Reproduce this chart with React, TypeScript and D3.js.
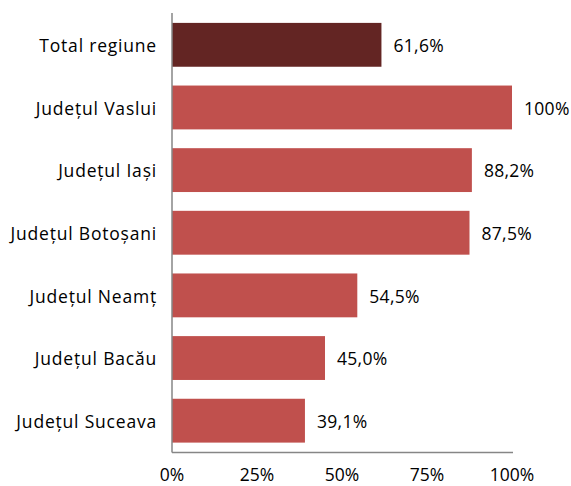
import { useEffect, useRef } from 'react';
import * as d3 from 'd3';

const categories = [
  'Total regiune',
  'Județul Vaslui',
  'Județul Iași',
  'Județul Botoșani',
  'Județul Neamț',
  'Județul Bacău',
  'Județul Suceava',
];
const values = [61.6, 100, 88.2, 87.5, 54.5, 45.0, 39.1];
const valueLabels = ['61,6%', '100%', '88,2%', '87,5%', '54,5%', '45,0%', '39,1%'];
const ticks = [0, 25, 50, 75, 100];

const App = () => {
  const svgRef = useRef<SVGSVGElement>(null);

  useEffect(() => {
    if (!svgRef.current) return;
    const svg = d3.select(svgRef.current);
    svg.selectAll('*').remove();

    const font = '"Open Sans", sans-serif';

    const x = d3.scaleLinear().domain([0, 100]).range([172, 512]);
    const y = d3
      .scaleBand<string>()
      .domain(categories)
      .range([13.5, 452])
      .paddingInner(0.3)
      .paddingOuter(0.15);

    // Bars
    svg
      .selectAll('.bar')
      .data(categories)
      .enter()
      .append('rect')
      .attr('x', x(0))
      .attr('y', d => y(d) as number)
      .attr('width', (_, i) => x(values[i]) - x(0))
      .attr('height', y.bandwidth())
      .attr('fill', (_, i) => (i === 0 ? '#632523' : '#c0504d'));

    // Value labels
    svg
      .selectAll('.val')
      .data(categories)
      .enter()
      .append('text')
      .attr('x', (_, i) => x(values[i]) + 12)
      .attr('y', d => (y(d) as number) + y.bandwidth() / 2 + 1)
      .attr('dy', '0.35em')
      .attr('font-family', font)
      .attr('font-size', 17.5)
      .attr('letter-spacing', 0.3)
      .attr('fill', '#000')
      .text((_, i) => valueLabels[i]);

    // Category labels
    svg
      .selectAll('.cat')
      .data(categories)
      .enter()
      .append('text')
      .attr('x', 157)
      .attr('y', d => (y(d) as number) + y.bandwidth() / 2 + 1)
      .attr('dy', '0.35em')
      .attr('text-anchor', 'end')
      .attr('font-family', font)
      .attr('font-size', 17.5)
      .attr('letter-spacing', 0.8)
      .attr('fill', '#000')
      .text(d => d);

    // Axis lines
    svg
      .append('line')
      .attr('x1', x(0))
      .attr('x2', x(0))
      .attr('y1', 13)
      .attr('y2', 452.5)
      .attr('stroke', '#868686')
      .attr('stroke-width', 1.5);
    svg
      .append('line')
      .attr('x1', x(0))
      .attr('x2', x(100) + 1)
      .attr('y1', 452.5)
      .attr('y2', 452.5)
      .attr('stroke', '#868686')
      .attr('stroke-width', 1.5);

    // Tick labels
    svg
      .selectAll('.tick')
      .data(ticks)
      .enter()
      .append('text')
      .attr('x', d => x(d))
      .attr('y', 475)
      .attr('dy', '0.35em')
      .attr('text-anchor', 'middle')
      .attr('font-family', font)
      .attr('font-size', 17.5)
      .attr('fill', '#000')
      .text(d => `${d}%`);
  }, []);

  return (
    <svg
      ref={svgRef}
      width={571}
      height={486}
      style={{ position: 'absolute', left: 0, top: 0, background: '#fff' }}
    />
  );
};

export default App;
